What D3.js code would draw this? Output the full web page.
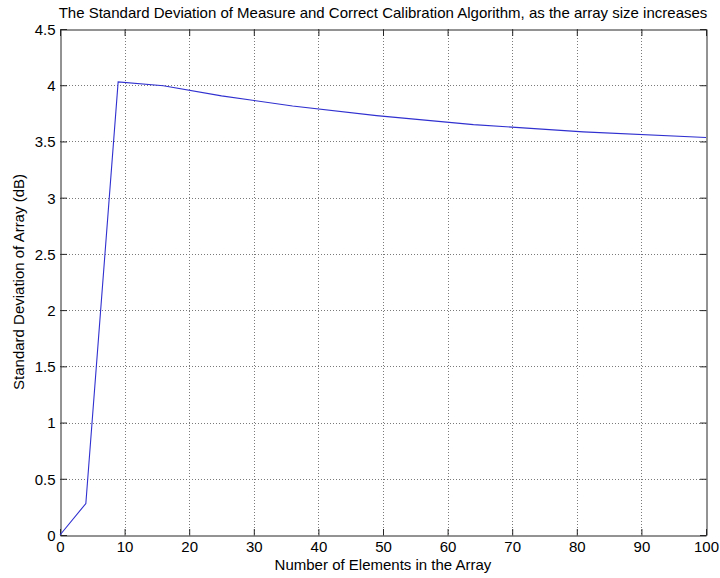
<!DOCTYPE html>
<html>
<head>
<meta charset="utf-8">
<script src="https://cdn.jsdelivr.net/npm/d3@7"></script>
<style>
  html, body { margin: 0; padding: 0; background: #ffffff; }
  svg { display: block; }
  text { font-family: Arial, "Liberation Sans", Helvetica, sans-serif; fill: #000; }
</style>
</head>
<body>
<script>
// Array size (number of elements) and measured standard deviation (dB)
const arraySizes = [0, 4, 9, 16, 25, 36, 49, 64, 81, 100];
const stdDevs    = [0, 0.28, 4.03, 3.995, 3.905, 3.815, 3.73, 3.65, 3.585, 3.535];

const xTicks = [0, 10, 20, 30, 40, 50, 60, 70, 80, 90, 100];
const yTicks = [0, 0.5, 1, 1.5, 2, 2.5, 3, 3.5, 4, 4.5];

const titleText = "The Standard Deviation of Measure and Correct Calibration Algorithm, as the array size increases";
const xLabel = "Number of Elements in the Array";
const yLabel = "Standard Deviation of Array (dB)";

const W = 720, H = 578;
const plot = { left: 60, right: 706, top: 29, bottom: 535 };
const fontSize = "15px";

const svg = d3.select("body").append("svg")
  .attr("width", W).attr("height", H);

const x = d3.scaleLinear().domain([0, 100]).range([plot.left, plot.right]);
const y = d3.scaleLinear().domain([0, 4.5]).range([plot.bottom, plot.top]);

const tickLen = 6.5;
const gridColor = "#7a7a7a";
const axisColor = "#262626";

// Dotted grid lines
const grid = svg.append("g");
grid.selectAll("line.vx").data(xTicks.slice(1, -1)).join("line")
  .attr("x1", d => Math.round(x(d)) + 0.5).attr("x2", d => Math.round(x(d)) + 0.5)
  .attr("y1", plot.top).attr("y2", plot.bottom)
  .attr("stroke", gridColor).attr("stroke-width", 1).attr("stroke-dasharray", "1,2");
grid.selectAll("line.hy").data(yTicks.slice(1, -1)).join("line")
  .attr("y1", d => Math.round(y(d)) + 0.5).attr("y2", d => Math.round(y(d)) + 0.5)
  .attr("x1", plot.left).attr("x2", plot.right)
  .attr("stroke", gridColor).attr("stroke-width", 1).attr("stroke-dasharray", "1,2");

// Axes: bottom/left with labels, top/right as mirrored inward ticks
const fmtX = d => String(d);
const fmtY = d => String(d);

const axB = svg.append("g").attr("transform", `translate(0,${plot.bottom + 0.5})`)
  .call(d3.axisBottom(x).tickValues(xTicks).tickFormat(fmtX).tickSizeInner(-tickLen).tickSizeOuter(0).tickPadding(6));
const axT = svg.append("g").attr("transform", `translate(0,${plot.top + 0.5})`)
  .call(d3.axisTop(x).tickValues(xTicks).tickFormat("").tickSizeInner(-tickLen).tickSizeOuter(0));
const axL = svg.append("g").attr("transform", `translate(${plot.left + 0.5},0)`)
  .call(d3.axisLeft(y).tickValues(yTicks).tickFormat(fmtY).tickSizeInner(-tickLen).tickSizeOuter(0).tickPadding(5));
const axR = svg.append("g").attr("transform", `translate(${plot.right + 0.5},0)`)
  .call(d3.axisRight(y).tickValues(yTicks).tickFormat("").tickSizeInner(-tickLen).tickSizeOuter(0));

[axB, axT, axL, axR].forEach(g => {
  g.select(".domain").attr("stroke", axisColor).attr("stroke-width", 1);
  g.selectAll(".tick line").attr("stroke", axisColor).attr("stroke-width", 1);
  g.selectAll(".tick text").style("font-size", fontSize).attr("fill", "#000");
});
axB.selectAll(".tick text").attr("y", 6).attr("dy", "0.71em");
axL.selectAll(".tick text").attr("x", -5).attr("dy", "0.36em");

// Data line
const line = d3.line().x(d => x(d[0])).y(d => y(d[1]));
svg.append("path")
  .datum(arraySizes.map((s, i) => [s, stdDevs[i]]))
  .attr("d", line)
  .attr("fill", "none")
  .attr("stroke", "#3030d0")
  .attr("stroke-width", 1.1);

// Titles
svg.append("text")
  .attr("x", (plot.left + plot.right) / 2).attr("y", 18)
  .attr("text-anchor", "middle").style("font-size", fontSize)
  .text(titleText);

svg.append("text")
  .attr("x", (plot.left + plot.right) / 2).attr("y", 570)
  .attr("text-anchor", "middle").style("font-size", fontSize)
  .text(xLabel);

svg.append("text")
  .attr("transform", `translate(24,${(plot.top + plot.bottom) / 2}) rotate(-90)`)
  .attr("text-anchor", "middle").style("font-size", fontSize)
  .text(yLabel);
</script>
</body>
</html>
